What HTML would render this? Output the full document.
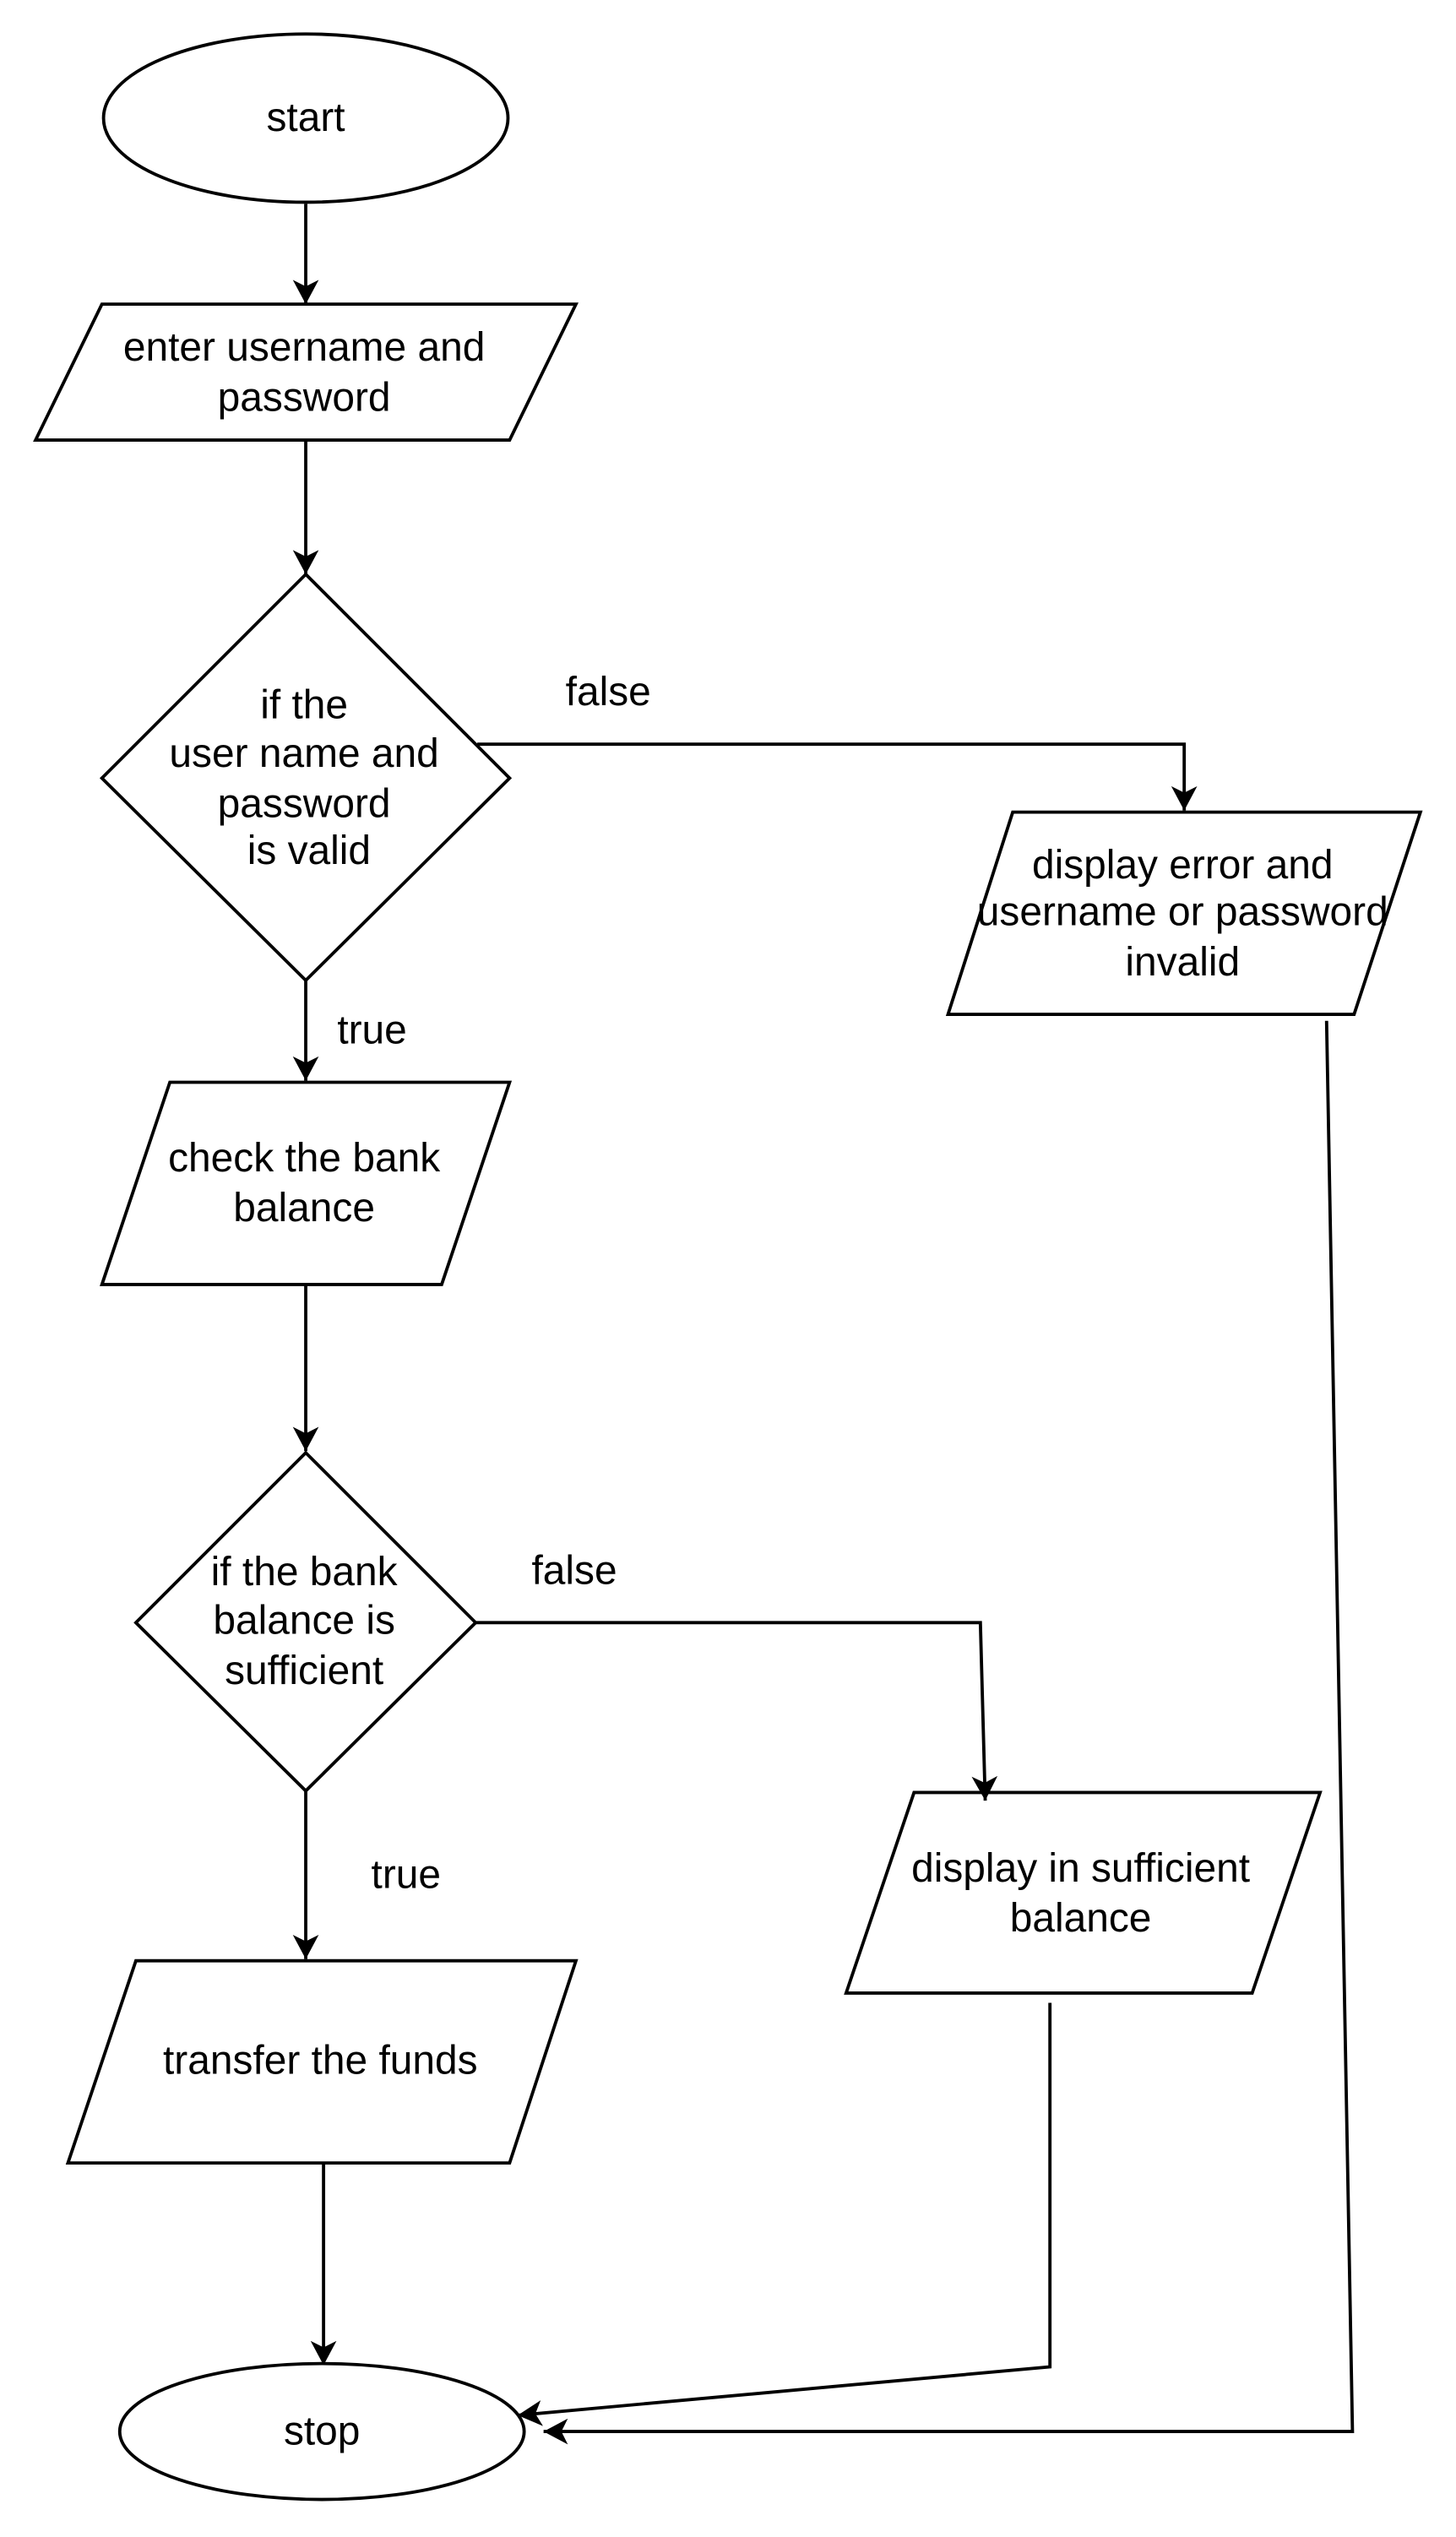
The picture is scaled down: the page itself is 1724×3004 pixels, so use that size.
<!DOCTYPE html>
<html><head><meta charset="utf-8"><style>html,body{margin:0;padding:0;background:#fff}svg{display:block}text{font-family:"Liberation Sans",Arial,sans-serif;font-size:25px}</style></head>
<body>
<svg width="1724" height="3004" viewBox="0 0 900 1568.2" xmlns="http://www.w3.org/2000/svg" text-anchor="middle">
<defs>
<marker id="b" markerWidth="16" markerHeight="16" refX="15" refY="8" orient="auto" markerUnits="userSpaceOnUse"><path d="M0,0 L15,8 L0,16 L4,8 Z" fill="#000"/></marker></defs>
<g fill="#fff" stroke="#000" stroke-width="2">
<ellipse cx="189" cy="73" rx="125" ry="52"/>
<polygon points="22,272 63,188 356,188 315,272"/>
<polygon points="189,355 315,481 189,606 63,481"/>
<polygon points="586,627 626,502 878,502 837,627"/>
<polygon points="63,794 105,669 315,669 273,794"/>
<polygon points="189,898 294,1003 189,1107 84,1003"/>
<polygon points="523,1232 565,1108 816,1108 774,1232"/>
<polygon points="42,1337 84,1212 356,1212 315,1337"/>
<ellipse cx="199" cy="1503" rx="125" ry="42"/>
</g>
<g fill="none" stroke="#000" stroke-width="2" marker-end="url(#b)">
<line x1="189" y1="126" x2="189" y2="188"/>
<line x1="189" y1="272" x2="189" y2="355"/>
<polyline points="295,460 732,460 732,501"/>
<polyline points="820,631 836,1503 336,1503"/>
<line x1="189" y1="606" x2="189" y2="668"/>
<line x1="189" y1="794" x2="189" y2="897"/>
<polyline points="294,1003 606,1003 609,1113"/>
<polyline points="649,1238 649,1463 320,1493"/>
<line x1="189" y1="1107" x2="189" y2="1211"/>
<line x1="200" y1="1337" x2="200" y2="1462"/>
</g>
<g fill="#000">
<text x="189" y="81">start</text>
<text x="188" y="223">enter username and</text>
<text x="188" y="254">password</text>
<text x="188" y="444">if the</text>
<text x="188" y="474">user name and</text>
<text x="188" y="505">password</text>
<text x="191" y="534">is valid</text>
<text x="376" y="436">false</text>
<text x="731" y="543">display error and</text>
<text x="731" y="572">username or password</text>
<text x="731" y="603">invalid</text>
<text x="230" y="645">true</text>
<text x="188" y="724">check the bank</text>
<text x="188" y="755">balance</text>
<text x="188" y="980">if the bank</text>
<text x="188" y="1010">balance is</text>
<text x="188" y="1041">sufficient</text>
<text x="355" y="979">false</text>
<text x="668" y="1163">display in sufficient</text>
<text x="668" y="1194">balance</text>
<text x="251" y="1167">true</text>
<text x="198" y="1282">transfer the funds</text>
<text x="199" y="1511">stop</text>
</g>
</svg>
</body></html>
